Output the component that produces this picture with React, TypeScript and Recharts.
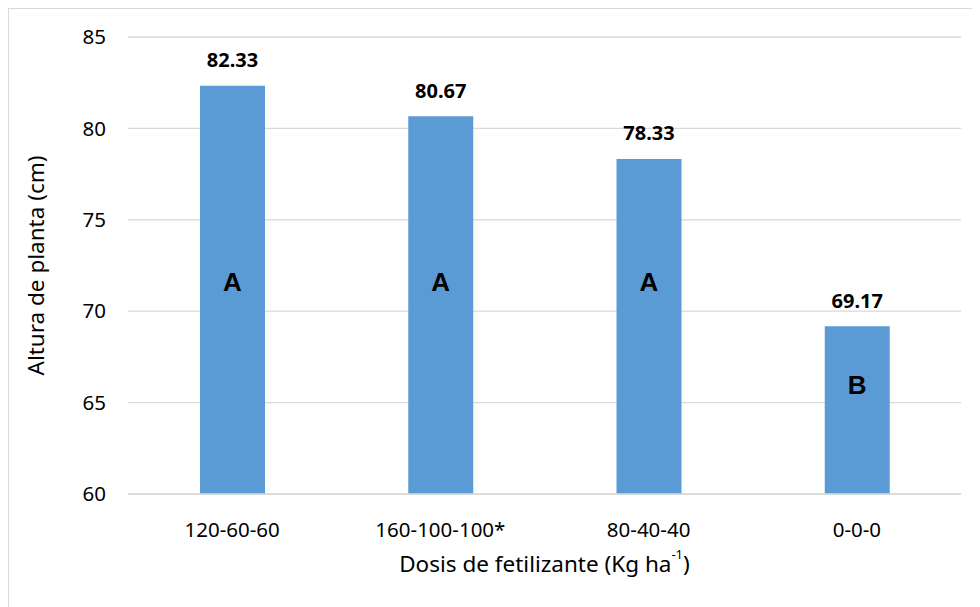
import { BarChart, Bar, XAxis, YAxis, CartesianGrid, LabelList } from "recharts";

const doses = ["120-60-60", "160-100-100*", "80-40-40", "0-0-0"];
const heights = [82.33, 80.67, 78.33, 69.17];
const groups = ["A", "A", "A", "B"];
const yTicks = [60, 65, 70, 75, 80, 85];

const data = doses.map((dose, i) => ({ dose, altura: heights[i], grupo: groups[i] }));

const FONT = "'Noto Sans', 'Open Sans', sans-serif";

const valueLabel = (props: any) => {
  const { x, y, width, value } = props;
  return (
    <text
      x={x + width / 2}
      y={y - 26}
      textAnchor="middle"
      dominantBaseline="central"
      fontFamily={FONT}
      fontWeight="bold"
      fontSize={20}
      fill="#000"
    >
      {Number(value).toFixed(2)}
    </text>
  );
};

// letra de significancia dentro de la barra
const groupLabel = (props: any) => {
  const { x, y, width, height, value } = props;
  const bottom = y + height;
  const cy = bottom - Math.min(212, height * 0.65);
  return (
    <text
      x={x + width / 2}
      y={cy}
      textAnchor="middle"
      dominantBaseline="central"
      fontFamily="'Liberation Sans', Arial, sans-serif"
      fontWeight="bold"
      fontSize={26}
      fill="#000"
    >
      {value}
    </text>
  );
};

export default function App() {
  return (
    <div
      style={{
        width: 971,
        height: 598,
        borderTop: "1px solid #d9d9d9",
        borderLeft: "1px solid #d9d9d9",
        background: "#fff",
      }}
    >
      <BarChart
        width={970}
        height={597}
        data={data}
        margin={{ top: 28, right: 18, left: 0, bottom: 0 }}
      >
        <CartesianGrid vertical={false} stroke="#d9d9d9" strokeWidth={1.3} />
        <XAxis
          dataKey="dose"
          axisLine={{ stroke: "#d9d9d9", strokeWidth: 1.3 }}
          tickLine={false}
          tickSize={0}
          tickMargin={28}
          tick={{ fill: "#000", fontSize: 20.5, fontFamily: FONT }}
          interval={0}
          height={112}
          label={(p: any) => {
            const vb = p.viewBox;
            return (
              <text
                x={vb.x + vb.width / 2}
                y={vb.y + 69}
                textAnchor="middle"
                dominantBaseline="central"
                fontFamily={FONT}
                fontSize={22.5}
                fill="#000"
              >
                Dosis de fetilizante (Kg ha
                <tspan dy={-9} fontSize={13}>-1</tspan>
                <tspan dy={9}>)</tspan>
              </text>
            );
          }}
        />
        <YAxis
          domain={[60, 85]}
          ticks={yTicks}
          axisLine={false}
          tickLine={false}
          tickSize={0}
          tickMargin={22}
          width={119}
          tick={{ fill: "#000", fontSize: 20.5, fontFamily: FONT }}
          label={(p: any) => {
            const vb = p.viewBox;
            const cx = 26;
            const cy = vb.y + vb.height / 2;
            return (
              <text
                x={cx}
                y={cy}
                transform={`rotate(-90 ${cx} ${cy})`}
                textAnchor="middle"
                dominantBaseline="central"
                fontFamily={FONT}
                fontSize={22.5}
                fill="#000"
              >
                Altura de planta (cm)
              </text>
            );
          }}
        />
        <Bar dataKey="altura" fill="#5B9BD5" barSize={65} isAnimationActive={false}>
          <LabelList dataKey="altura" content={valueLabel} />
          <LabelList dataKey="grupo" content={groupLabel} />
        </Bar>
      </BarChart>
    </div>
  );
}
